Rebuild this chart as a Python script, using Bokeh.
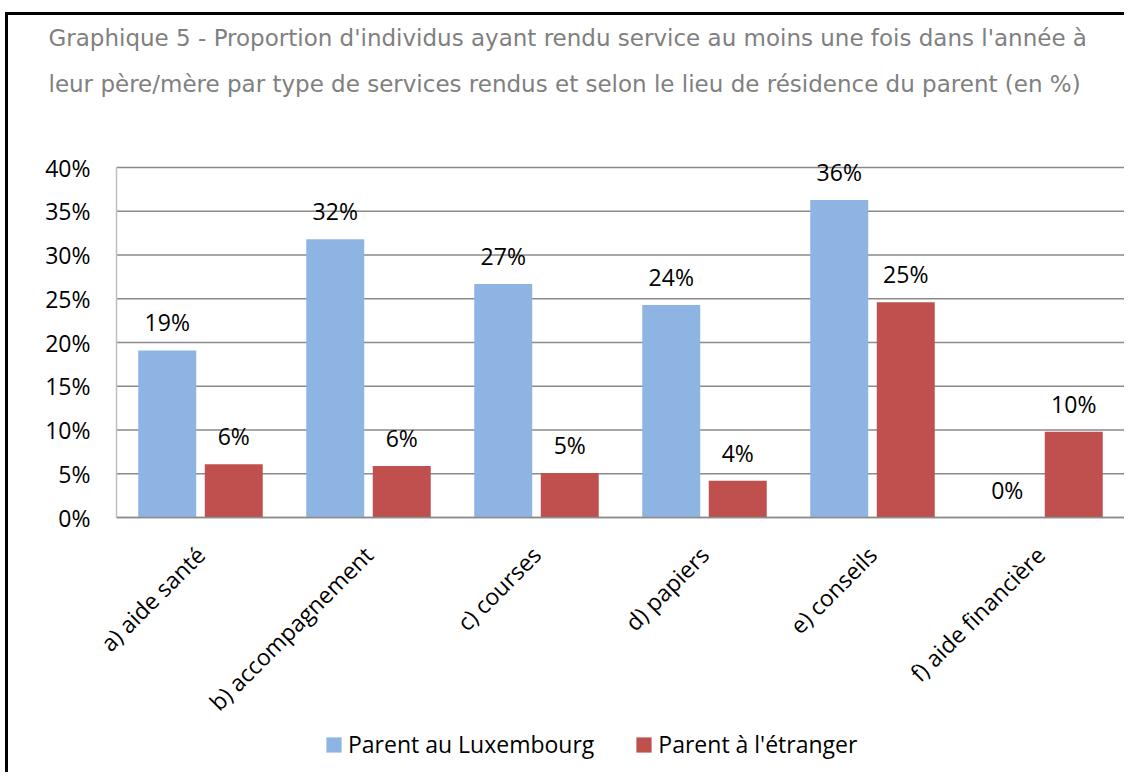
import math
from bokeh.plotting import figure
from bokeh.models import (ColumnDataSource, Range1d, FixedTicker,
                          PrintfTickFormatter, LabelSet, Legend, LegendItem, Title)
from bokeh.core.properties import value
from bokeh.transform import dodge
from bokeh.embed import file_html
from bokeh.resources import INLINE

categories = ["a) aide santé", "b) accompagnement", "c) courses",
              "d) papiers", "e) conseils", "f) aide financière"]
luxembourg = [19.1, 31.8, 26.7, 24.3, 36.3, 0.0]
etranger = [6.1, 5.9, 5.1, 4.2, 24.6, 9.8]
series_names = ["Parent au Luxembourg", "Parent à l'étranger"]
y_ticks = [0, 5, 10, 15, 20, 25, 30, 35, 40]
title_lines = [
    "Graphique 5 - Proportion d'individus ayant rendu service au moins une fois dans l'année à",
    "leur père/mère par type de services rendus et selon le lieu de résidence du parent (en %)",
]

BLUE = "#8DB4E2"
RED = "#C0504D"
FONT = "Open Sans"
FS = "23px"
TFONT = "DejaVu Sans"

n = len(categories)
x_pos = [i + 0.5 for i in range(n)]

source = ColumnDataSource(dict(
    x=x_pos,
    lux=luxembourg,
    etr=etranger,
    lux_lbl=[f"{v:.0f}%" for v in luxembourg],
    etr_lbl=[f"{v:.0f}%" for v in etranger],
))

# Layout (canvas px): value axis 40% at 152, 0% at 502 -> 8.75 px per unit;
# category band 168 px each; frame extended so labels are not clipped.
PX = 350 / 40
CAT_PX = 168
FRAME_TOP, ZERO_Y, FRAME_BOTTOM = 140, 502, 755
LEFT_EXTRA = 76
y_top = 40 + (152 - FRAME_TOP) / PX
y_low = -(FRAME_BOTTOM - ZERO_Y) / PX
x_low = -LEFT_EXTRA / CAT_PX

p = figure(x_range=Range1d(x_low, n), y_range=Range1d(y_low, y_top),
           width=1119, height=760,
           output_backend="svg", toolbar_location=None,
           min_border_left=32, min_border_right=3,
           min_border_top=FRAME_TOP, min_border_bottom=5)
p.title = None
p.styles = {"border-left": "3px solid black", "border-top": "3px solid black"}
p.margin = (12, 0, 0, 5)
p.outline_line_color = None
p.background_fill_color = "white"
p.border_fill_color = "white"
p.xgrid.grid_line_color = None
p.ygrid.grid_line_color = None

# horizontal gridlines over the category band
p.segment(x0=0, x1=n, y0=y_ticks, y1=y_ticks, line_color="#8a8a8a",
          line_width=1.5)

off = 0.198
bw = 0.345
r1 = p.vbar(x=dodge("x", -off), top="lux", width=bw,
            source=source, fill_color=BLUE, line_color=None)
r2 = p.vbar(x=dodge("x", off), top="etr", width=bw,
            source=source, fill_color=RED, line_color=None)

for xo, col, lbl in [(-off, "lux", "lux_lbl"), (off, "etr", "etr_lbl")]:
    ls = LabelSet(x=dodge("x", xo), y=col, text=lbl,
                  source=source, text_align="center", text_baseline="alphabetic",
                  y_offset=19, text_font=value(FONT), text_font_size=value(FS),
                  text_color=value("black"))
    p.add_layout(ls)

# y axis drawn at x = 0
p.yaxis.fixed_location = 0
p.yaxis.ticker = FixedTicker(ticks=y_ticks)
p.yaxis.formatter = PrintfTickFormatter(format="%d%%")
p.yaxis.bounds = (0, 40)
p.yaxis.major_tick_line_color = None
p.yaxis.minor_tick_line_color = None
p.yaxis.major_tick_out = 0
p.yaxis.major_tick_in = 0
p.yaxis.major_label_standoff = 26
p.yaxis.axis_line_color = "#bfbfbf"
p.yaxis.axis_line_width = 1.5
p.yaxis.major_label_text_font = FONT
p.yaxis.major_label_text_font_size = FS
p.yaxis.major_label_text_color = "black"

# x axis drawn at y = 0
p.xaxis.fixed_location = 0
p.xaxis.ticker = FixedTicker(ticks=x_pos)
p.xaxis.major_label_overrides = {x: c for x, c in zip(x_pos, categories)}
p.xaxis.bounds = (0, n)
p.xaxis.major_label_orientation = math.pi / 4
p.xaxis.major_tick_line_color = None
p.xaxis.minor_tick_line_color = None
p.xaxis.major_tick_out = 0
p.xaxis.major_tick_in = 0
p.xaxis.major_label_standoff = 33
p.xaxis.axis_line_color = "#8c8c8c"
p.xaxis.axis_line_width = 1.5
p.xaxis.major_label_text_font = FONT
p.xaxis.major_label_text_font_size = FS
p.xaxis.major_label_text_color = "black"

# titles: invisible spacer nearest the plot, then line 2, then line 1
spacer = Title(text=".", standoff=31, text_font=TFONT, text_font_size="10px",
               text_color="white")
t2 = Title(text=title_lines[1], align="left", offset=8, standoff=36,
           text_font=TFONT, text_font_size="23px", text_font_style="normal",
           text_color="#808080")
t1 = Title(text=title_lines[0], align="left", offset=8, standoff=0,
           text_font=TFONT, text_font_size="23px", text_font_style="normal",
           text_color="#808080")
p.add_layout(spacer, "above")
p.add_layout(t2, "above")
p.add_layout(t1, "above")

legend = Legend(items=[LegendItem(label=series_names[0], renderers=[r1]),
                       LegendItem(label=series_names[1], renderers=[r2])],
                orientation="horizontal", location=(284, 10),
                glyph_width=19, glyph_height=19, label_standoff=5, spacing=40,
                padding=0, margin=0, border_line_color=None,
                background_fill_alpha=0,
                label_text_font=FONT, label_text_font_size=FS,
                label_text_color="black")
p.add_layout(legend, "center")

open("out.html", "w").write(file_html(p, INLINE))
